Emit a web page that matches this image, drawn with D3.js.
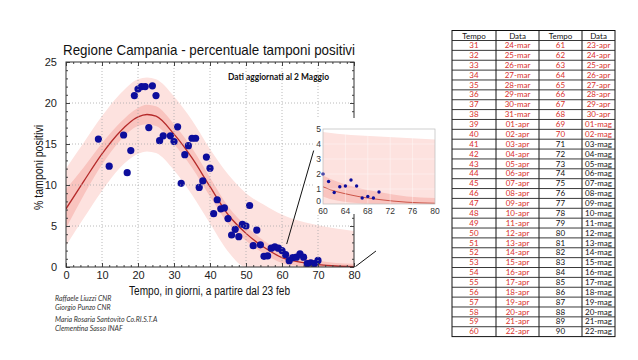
<!DOCTYPE html>
<html>
<head>
<meta charset="utf-8">
<script src="https://cdn.jsdelivr.net/npm/d3@7"></script>
<style>
  body { margin: 0; background: #fff; }
  svg { display: block; }
</style>
</head>
<body>
<div id="chart"></div>
<script>
// measured points: day since 23 feb, % positive swabs
const days = [9, 12, 16, 17, 18, 19, 20, 21, 22, 23, 24, 25, 26, 27,
  29, 30, 31, 32, 33, 34, 35, 36, 37, 38, 39, 40, 41, 42, 43, 44, 45, 46, 47, 48, 49,
  50, 51, 52, 53, 54, 55, 56, 57, 58, 59, 60, 61, 62, 63, 64, 65, 66, 67, 68, 69, 70];
const pct = [15.6, 12.3, 16.1, 11.5, 14.2, 20.9, 21.7, 22.0, 22.0, 17.0, 22.1, 20.9, 15.4, 16.0,
  16.0, 15.3, 17.1, 10.2, 13.7, 14.8, 15.7, 15.7, 9.7, 10.5, 13.4, 12.05, 6.5, 8.2, 7.1, 7.2, 5.9, 3.9, 4.6, 3.7, 5.2,
  5.0, 7.5, 2.6, 4.5, 2.7, 1.3, 1.35, 2.3, 2.45, 2.3, 2.0, 1.5, 0.77, 1.15, 1.2, 1.6, 1.2, 0.4, 0.5, 0.4, 0.8];

// fit curve and bands
const fitDays = [0, 5, 10, 15, 20, 22.5, 25, 30, 35, 40, 45, 50, 55, 60, 65, 70, 75, 80];
const fitMid = [7.1, 10.5, 13.8, 16.5, 18.3, 18.6, 18.4, 16.2, 13.3, 9.8, 6.4, 4.1, 2.4, 1.15, 0.6, 0.3, 0.12, 0.05];
const innerLo = [4.7, 8.8, 12.5, 15.4, 17.2, 17.4, 17.2, 15.0, 12.1, 8.6, 5.3, 3.2, 1.6, 0.5, 0.1, 0, 0, 0];
const innerHi = [9.5, 12.2, 15.1, 17.6, 19.4, 19.8, 19.6, 17.4, 14.5, 10.9, 7.4, 5.0, 3.2, 1.9, 1.2, 0.8, 0.5, 0.4];
const outerLo = [2.6, 6.0, 9.3, 12.1, 13.8, 14.1, 13.9, 11.8, 8.8, 5.3, 1.9, 0, 0, 0, 0, 0, 0, 0];
const outerHi = [12.0, 15.2, 18.4, 21.1, 22.9, 23.1, 22.9, 20.8, 17.9, 14.4, 11.3, 9.0, 7.6, 6.4, 5.6, 5.1, 4.7, 4.4];

// zoomed inset band top
const insetDays = [60, 65, 70, 75, 80];
const insetTop = [4.8, 4.6, 4.5, 4.4, 4.3];

const xTicks = [0, 10, 20, 30, 40, 50, 60, 70, 80];
const yTicks = [0, 5, 10, 15, 20, 25];
const insetXTicks = [60, 64, 68, 72, 76, 80];
const insetYTicks = [0, 1, 2, 3, 4, 5];

const authors = ["Raffaele Liuzzi CNR", "Giorgio Punzo CNR",
  "Maria Rosaria Santovito Co.RI.S.T.A", "Clementina Sasso INAF"];

// table: day number and date
const tempoA = [31, 32, 33, 34, 35, 36, 37, 38, 39, 40, 41, 42, 43, 44, 45,
  46, 47, 48, 49, 50, 51, 52, 53, 54, 55, 56, 57, 58, 59, 60];
const dataA = ["24-mar", "25-mar", "26-mar", "27-mar", "28-mar", "29-mar", "30-mar", "31-mar",
  "01-apr", "02-apr", "03-apr", "04-apr", "05-apr", "06-apr", "07-apr", "08-apr", "09-apr",
  "10-apr", "11-apr", "12-apr", "13-apr", "14-apr", "15-apr", "16-apr", "17-apr", "18-apr",
  "19-apr", "20-apr", "21-apr", "22-apr"];
const tempoB = [61, 62, 63, 64, 65, 66, 67, 68, 69, 70, 71, 72, 73, 74, 75,
  76, 77, 78, 79, 80, 81, 82, 83, 84, 85, 86, 87, 88, 89, 90];
const dataB = ["23-apr", "24-apr", "25-apr", "26-apr", "27-apr", "28-apr", "29-apr", "30-apr",
  "01-mag", "02-mag", "03-mag", "04-mag", "05-mag", "06-mag", "07-mag", "08-mag", "09-mag",
  "10-mag", "11-mag", "12-mag", "13-mag", "14-mag", "15-mag", "16-mag", "17-mag", "18-mag",
  "19-mag", "20-mag", "21-mag", "22-mag"];
const lastDay = 70; // data up to 2 maggio

const width = 638, height = 360;
const svg = d3.select("#chart").append("svg")
  .attr("width", width).attr("height", height)
  .style("font-family", "'Liberation Sans', Arial, sans-serif");

const x = d3.scaleLinear().domain([0, 80]).range([66, 354]);
const y = d3.scaleLinear().domain([0, 25]).range([267, 62]);

const fit = fitDays.map((d, i) => ({
  d, mid: fitMid[i], il: innerLo[i], ih: innerHi[i], ol: outerLo[i], oh: outerHi[i]
}));

svg.append("clipPath").attr("id", "plotClip")
  .append("rect").attr("x", 66).attr("y", 62).attr("width", 288).attr("height", 205);

const plot = svg.append("g").attr("clip-path", "url(#plotClip)");

const curve = d3.curveMonotoneX;
plot.append("path").datum(fit)
  .attr("fill", "#fde2df")
  .attr("d", d3.area().curve(curve).x(d => x(d.d)).y0(d => y(d.ol)).y1(d => y(d.oh)));
plot.append("path").datum(fit)
  .attr("fill", "#f9c4bf")
  .attr("d", d3.area().curve(curve).x(d => x(d.d)).y0(d => y(d.il)).y1(d => y(d.ih)));

// grid
const grid = svg.append("g").attr("stroke", "#a8a8a8").attr("stroke-dasharray", "1,2")
  .attr("stroke-width", 0.8);
grid.selectAll(".gx").data(xTicks.slice(1, -1)).join("line")
  .attr("x1", d => x(d)).attr("x2", d => x(d)).attr("y1", y(25)).attr("y2", y(0));
grid.selectAll(".gy").data(yTicks.slice(1, -1)).join("line")
  .attr("y1", d => y(d)).attr("y2", d => y(d)).attr("x1", x(0)).attr("x2", x(80));

plot.append("path").datum(fit)
  .attr("fill", "none").attr("stroke", "#b52a2a").attr("stroke-width", 1.3)
  .attr("d", d3.line().curve(curve).x(d => x(d.d)).y(d => y(d.mid)));

plot.selectAll(".pt").data(days).join("circle")
  .attr("cx", d => x(d)).attr("cy", (d, i) => y(pct[i]))
  .attr("r", 3.6).attr("fill", "#0d0d9c");

// axes with inward ticks on all sides
const xMinor = d3.range(0, 81, 2);
const yMinor = d3.range(0, 26, 1);
function addAxis(axis, tx, ty, labels) {
  const g = svg.append("g").attr("transform", `translate(${tx},${ty})`).call(axis);
  g.select(".domain").remove();
  g.selectAll("line").attr("stroke", "#444");
  if (!labels) g.selectAll("text").remove();
  return g;
}
addAxis(d3.axisBottom(x).tickValues(xMinor).tickSize(-2).tickFormat(""), 0, y(0), false);
addAxis(d3.axisTop(x).tickValues(xMinor).tickSize(-2).tickFormat(""), 0, y(25), false);
addAxis(d3.axisLeft(y).tickValues(yMinor).tickSize(-2).tickFormat(""), x(0), 0, false);
addAxis(d3.axisRight(y).tickValues(yMinor).tickSize(-2).tickFormat(""), x(80), 0, false);
addAxis(d3.axisTop(x).tickValues(xTicks).tickSize(-4), 0, y(25), false);
addAxis(d3.axisRight(y).tickValues(yTicks).tickSize(-4), x(80), 0, false);
const gxb = addAxis(d3.axisBottom(x).tickValues(xTicks).tickSize(-4).tickPadding(4), 0, y(0), true);
gxb.selectAll("text").attr("font-size", 11).attr("fill", "#222")
  .attr("font-family", "'Liberation Sans', Arial, sans-serif");
const gyl = addAxis(d3.axisLeft(y).tickValues(yTicks).tickSize(-4).tickPadding(9), x(0), 0, true);
gyl.selectAll("text").attr("font-size", 11).attr("fill", "#222")
  .attr("font-family", "'Liberation Sans', Arial, sans-serif");

svg.append("rect").attr("x", x(0)).attr("y", y(25)).attr("width", x(80) - x(0))
  .attr("height", y(0) - y(25)).attr("fill", "none").attr("stroke", "#333").attr("stroke-width", 1);

// titles
svg.append("text").attr("x", 63).attr("y", 55).attr("font-size", 15).attr("fill", "#111")
  .attr("textLength", 292).attr("lengthAdjust", "spacingAndGlyphs")
  .text("Regione Campania - percentuale tamponi positivi");
svg.append("text").attr("x", 129).attr("y", 295).attr("font-size", 12.5).attr("fill", "#111")
  .attr("textLength", 161).attr("lengthAdjust", "spacingAndGlyphs")
  .text("Tempo, in giorni, a partire dal 23 feb");
svg.append("text").attr("transform", "translate(43,210) rotate(-90)")
  .attr("font-size", 12).attr("fill", "#111")
  .attr("textLength", 85).attr("lengthAdjust", "spacingAndGlyphs")
  .text("% tamponi positivi");
svg.append("text").attr("x", 228).attr("y", 80).attr("font-size", 8.5).attr("font-weight", "bold")
  .attr("font-family", "Lato, sans-serif").attr("fill", "#111")
  .attr("textLength", 101).attr("lengthAdjust", "spacingAndGlyphs")
  .text("Dati aggiornati  al 2 Maggio");

const authorY = [300.5, 309.5, 321.5, 330.5];
svg.selectAll(".auth").data(authors).join("text")
  .attr("x", 55).attr("y", (d, i) => authorY[i])
  .attr("font-size", 7).attr("font-style", "italic").attr("font-family", "Lato, sans-serif")
  .attr("fill", "#333").text(d => d);

// inset zoom 60-80
const xi = d3.scaleLinear().domain([60, 80]).range([323, 435]);
const yi = d3.scaleLinear().domain([0, 5]).range([204, 129]);
svg.append("rect").attr("x", 315).attr("y", 118).attr("width", 126).attr("height", 96).attr("fill", "#fff");
svg.append("clipPath").attr("id", "insetClip")
  .append("rect").attr("x", 323).attr("y", 129).attr("width", 112).attr("height", 75);
const inset = svg.append("g").attr("clip-path", "url(#insetClip)");
const insetBand = insetDays.map((d, i) => ({ d, top: insetTop[i] }));
inset.append("path").datum(insetBand).attr("fill", "#fde2df")
  .attr("d", d3.area().curve(curve).x(d => xi(d.d)).y0(yi(0)).y1(d => yi(d.top)));
inset.append("path").datum(fit).attr("fill", "#f9c4bf")
  .attr("d", d3.area().curve(curve).x(d => xi(d.d)).y0(d => yi(d.il)).y1(d => yi(d.ih)));
const igrid = svg.append("g").attr("stroke", "#fff").attr("stroke-width", 0.6).attr("opacity", 0.7);
igrid.selectAll(".ix").data(insetXTicks.slice(1, -1)).join("line")
  .attr("x1", d => xi(d)).attr("x2", d => xi(d)).attr("y1", yi(5)).attr("y2", yi(0));
igrid.selectAll(".iy").data(insetYTicks.slice(1, -1)).join("line")
  .attr("y1", d => yi(d)).attr("y2", d => yi(d)).attr("x1", xi(60)).attr("x2", xi(80));
inset.append("path").datum(fit).attr("fill", "none").attr("stroke", "#c0392b").attr("stroke-width", 0.8)
  .attr("d", d3.line().curve(curve).x(d => xi(d.d)).y(d => yi(d.mid)));
const insetIdx = days.map((d, i) => i).filter(i => days[i] >= 60);
svg.selectAll(".ipt").data(insetIdx).join("circle")
  .attr("cx", i => xi(days[i])).attr("cy", i => yi(pct[i])).attr("r", 1.7).attr("fill", "#0d0d9c");
svg.append("rect").attr("x", 323).attr("y", 129).attr("width", 112).attr("height", 75)
  .attr("fill", "none").attr("stroke", "#bbb").attr("stroke-width", 0.7);
svg.append("g").selectAll("text").data(insetXTicks).join("text")
  .attr("x", d => xi(d)).attr("y", 214).attr("text-anchor", "middle")
  .attr("font-size", 8.5).attr("fill", "#333").text(d => d);
svg.append("g").selectAll("text").data(insetYTicks).join("text")
  .attr("x", 321).attr("y", d => yi(d) + (d === 0 ? 0 : 3)).attr("text-anchor", "end")
  .attr("font-size", 8.5).attr("fill", "#333").text(d => d);

// connector lines
svg.append("line").attr("x1", x(61.3)).attr("y1", y(2.8)).attr("x2", x(68.8)).attr("y2", y(14.2))
  .attr("stroke", "#111").attr("stroke-width", 1);
svg.append("line").attr("x1", x(80.4)).attr("y1", y(0.05)).attr("x2", x(86.1)).attr("y2", y(1.95))
  .attr("stroke", "#111").attr("stroke-width", 1);

// date table
const tLeft = 452, tTop = 30.5, headH = 10, rowH = 9.87;
const colX = [452, 496, 539, 582, 615];
const tBottom = tTop + headH + rowH * tempoA.length;
const tbl = svg.append("g").attr("font-family", "Lato, sans-serif").attr("font-size", 8);
tbl.append("rect").attr("x", tLeft).attr("y", tTop).attr("width", colX[4] - tLeft)
  .attr("height", tBottom - tTop).attr("fill", "#fff").attr("stroke", "#111").attr("stroke-width", 1);
tbl.selectAll(".vl").data(colX.slice(1, -1)).join("line")
  .attr("x1", d => d).attr("x2", d => d).attr("y1", tTop).attr("y2", tBottom)
  .attr("stroke", "#111").attr("stroke-width", 1);
tbl.selectAll(".hl").data(d3.range(tempoA.length)).join("line")
  .attr("x1", tLeft).attr("x2", colX[4])
  .attr("y1", i => tTop + headH + i * rowH).attr("y2", i => tTop + headH + i * rowH)
  .attr("stroke", "#222").attr("stroke-width", 0.9);
const heads = ["Tempo", "Data", "Tempo", "Data"];
tbl.selectAll(".hd").data(heads).join("text")
  .attr("x", (d, i) => (colX[i] + colX[i + 1]) / 2).attr("y", tTop + 8)
  .attr("text-anchor", "middle").attr("fill", "#111").text(d => d);
const red = "#d9302c";
const cells = [];
tempoA.forEach((t, i) => {
  const cy = tTop + headH + i * rowH + 7.6;
  cells.push({ col: 0, y: cy, text: t, c: red });
  cells.push({ col: 1, y: cy, text: dataA[i], c: red });
  const c2 = tempoB[i] <= lastDay ? red : "#111";
  cells.push({ col: 2, y: cy, text: tempoB[i], c: c2 });
  cells.push({ col: 3, y: cy, text: dataB[i], c: c2 });
});
tbl.selectAll(".cell").data(cells).join("text")
  .attr("x", d => (colX[d.col] + colX[d.col + 1]) / 2).attr("y", d => d.y)
  .attr("text-anchor", "middle").attr("fill", d => d.c).text(d => d.text);
</script>
</body>
</html>
